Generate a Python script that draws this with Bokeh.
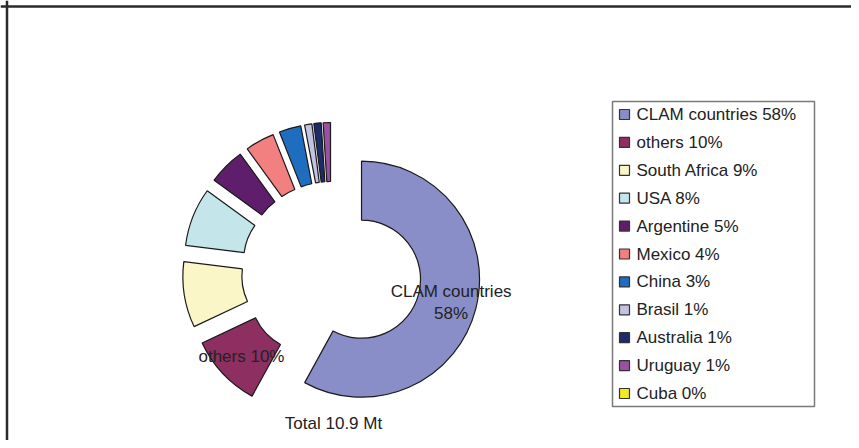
import math
from bokeh.plotting import figure
from bokeh.models import Range1d, Span, ColumnDataSource
from bokeh.embed import file_html
from bokeh.resources import INLINE
from bokeh.core.properties import value

# ---- data ----
countries = ["CLAM countries", "others", "South Africa", "USA", "Argentine",
             "Mexico", "China", "Brasil", "Australia", "Uruguay", "Cuba"]
shares = [58, 10, 9, 8, 5, 4, 3, 1, 1, 1, 0]
colors = ["#8A8EC8", "#8E2F62", "#FAF6C8", "#C4E6EA", "#5F1E6C",
          "#F28080", "#1F6DBE", "#C2C2E2", "#1E2A6A", "#9C50A2", "#F2EC1E"]
labelled = ["CLAM countries", "others"]
total_text = "Total 10.9 Mt"

# ---- figure ----
W, H = 851, 440
p = figure(width=W, height=H, x_range=Range1d(0, W), y_range=Range1d(0, H),
           output_backend="svg", toolbar_location=None, min_border=0,
           x_axis_location=None, y_axis_location=None)
p.grid.visible = False
p.outline_line_color = None
p.background_fill_color = "white"
p.border_fill_color = "white"

FONT = value("Liberation Sans")
TXT = "#222222"

# frame (top and left edge visible)
p.add_layout(Span(location=H - 6, dimension="width", line_color="#2a2a2a", line_width=2.5))
p.add_layout(Span(location=6.5, dimension="height", line_color="#2a2a2a", line_width=2.5))

# ---- exploded donut ----
cx, cy = 331, 169
R_out, R_in, explode = 118, 59, 31
total = sum(shares)
xs, ys, sa, ea, fc = [], [], [], [], []
mids = {}
cum = 0.0
for name, v, c in zip(countries, shares, colors):
    a0 = cum / total * 2 * math.pi
    a1 = (cum + v) / total * 2 * math.pi
    mid = (a0 + a1) / 2
    mids[name] = (mid, v)
    cum += v
    if v <= 0:
        continue
    xs.append(cx + explode * math.sin(mid))
    ys.append(cy + explode * math.cos(mid))
    sa.append(math.pi / 2 - a1)
    ea.append(math.pi / 2 - a0)
    fc.append(c)

src = ColumnDataSource(dict(x=xs, y=ys, sa=sa, ea=ea, fc=fc))
p.annular_wedge(x="x", y="y", inner_radius=R_in, outer_radius=R_out,
                start_angle="sa", end_angle="ea", direction="anticlock",
                fill_color="fc", line_color="#1a1a1a", line_width=1.2, source=src)

# slice labels
lx, ly, lt = [], [], []
for name in labelled:
    mid, v = mids[name]
    rr = explode + (R_out + R_in) / 2 + 4
    lx.append(cx + rr * math.sin(mid))
    ly.append(cy + rr * math.cos(mid))
    if name == "CLAM countries":
        lt.append(f"{name}\n{v}%")
    else:
        lt.append(f"{name} {v}%")
p.text(x=lx, y=ly, text=lt, text_align="center", text_baseline="middle",
       text_font=FONT, text_font_size="17px", text_color=TXT, text_line_height=1.15)

p.text(x=[cx + 2], y=[17], text=[total_text], text_align="center", text_baseline="middle",
       text_font=FONT, text_font_size="17px", text_color=TXT)

# ---- legend ----
p.quad(left=[612], right=[814], top=[339], bottom=[34], fill_color="white",
       line_color="#7a7a7a", line_width=1.5)
n = len(countries)
row_y = [326 - i * 27.9 for i in range(n)]
p.rect(x=[624] * n, y=row_y, width=10, height=10, fill_color=colors,
       line_color="#333333", line_width=1.2)
p.text(x=[636] * n, y=row_y, text=[f"{c} {v}%" for c, v in zip(countries, shares)],
       text_align="left", text_baseline="middle", text_font=FONT,
       text_font_size="17px", text_color=TXT)

open("out.html", "w").write(file_html(p, INLINE))
